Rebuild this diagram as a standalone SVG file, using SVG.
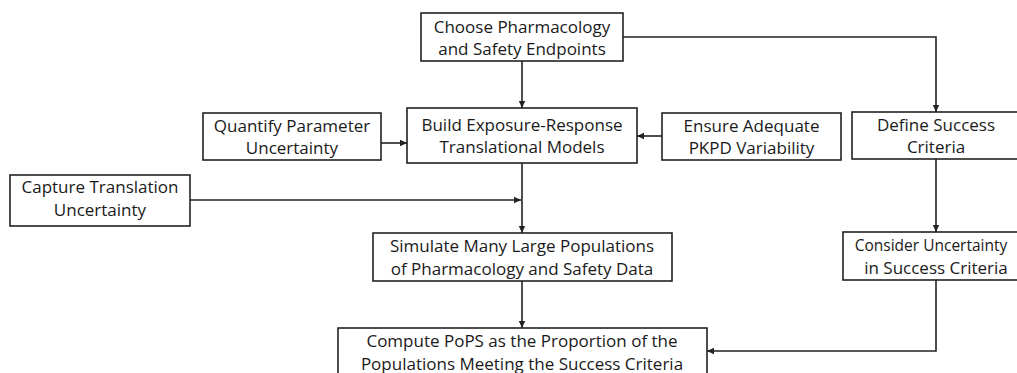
<svg xmlns="http://www.w3.org/2000/svg" width="1017" height="373" viewBox="0 0 1017 373">
<style>
.box{fill:#fff;stroke:#222;stroke-width:1.6}
.t{font-family:"Open Sans","Noto Sans",sans-serif;font-size:17px;fill:#1a1a1a;text-anchor:middle}
.c{fill:none;stroke:#222;stroke-width:1.6}
</style>
<defs>
<marker id="ah" markerWidth="8" markerHeight="8" refX="7" refY="4" orient="auto" markerUnits="userSpaceOnUse">
<path d="M0,0.8 L7,4 L0,7.2 Z" fill="#222"/>
</marker>
</defs>
<rect width="1017" height="373" fill="#fff"/>
<g id="connectors">
<path class="c" d="M522,61 V108" marker-end="url(#ah)"/>
<path class="c" d="M623,37 H936 V112" marker-end="url(#ah)"/>
<path class="c" d="M381,143 H407" marker-end="url(#ah)"/>
<path class="c" d="M662,136 H637" marker-end="url(#ah)"/>
<path class="c" d="M522,163 V233" marker-end="url(#ah)"/>
<path class="c" d="M190,200 H521" marker-end="url(#ah)"/>
<path class="c" d="M936,159 V232" marker-end="url(#ah)"/>
<path class="c" d="M522,281 V328" marker-end="url(#ah)"/>
<path class="c" d="M936,280 V351 H707" marker-end="url(#ah)"/>
</g>
<g id="choose">
<rect class="box" x="421" y="13" width="202" height="48"/>
<text class="t" x="522" y="33">Choose Pharmacology</text>
<text class="t" x="522" y="55">and Safety Endpoints</text>
</g>
<g id="build">
<rect class="box" x="407" y="108" width="230" height="55"/>
<text class="t" x="522" y="131">Build Exposure-Response</text>
<text class="t" x="522" y="153">Translational Models</text>
</g>
<g id="quantify">
<rect class="box" x="203" y="113" width="178" height="47"/>
<text class="t" x="292" y="132">Quantify Parameter</text>
<text class="t" x="292" y="154">Uncertainty</text>
</g>
<g id="ensure">
<rect class="box" x="662" y="113" width="179" height="47"/>
<text class="t" x="751.5" y="132">Ensure Adequate</text>
<text class="t" x="751.5" y="154">PKPD Variability</text>
</g>
<g id="define">
<rect class="box" x="852" y="112" width="170" height="47"/>
<text class="t" x="936" y="131">Define Success</text>
<text class="t" x="936" y="153">Criteria</text>
</g>
<g id="capture">
<rect class="box" x="10" y="175" width="180" height="51"/>
<text class="t" x="100" y="193">Capture Translation</text>
<text class="t" x="100" y="216">Uncertainty</text>
</g>
<g id="simulate">
<rect class="box" x="373" y="233" width="299" height="48"/>
<text class="t" x="522" y="252">Simulate Many Large Populations</text>
<text class="t" x="522" y="275">of Pharmacology and Safety Data</text>
</g>
<g id="consider">
<rect class="box" x="843" y="232" width="190" height="48"/>
<text class="t" x="931" y="251" style="font-size:15.5px">Consider Uncertainty</text>
<text class="t" x="936" y="274">in Success Criteria</text>
</g>
<g id="compute">
<rect class="box" x="338" y="328" width="369" height="60"/>
<text class="t" x="522" y="347">Compute PoPS as the Proportion of the</text>
<text class="t" x="522" y="370">Populations Meeting the Success Criteria</text>
</g>
</svg>
